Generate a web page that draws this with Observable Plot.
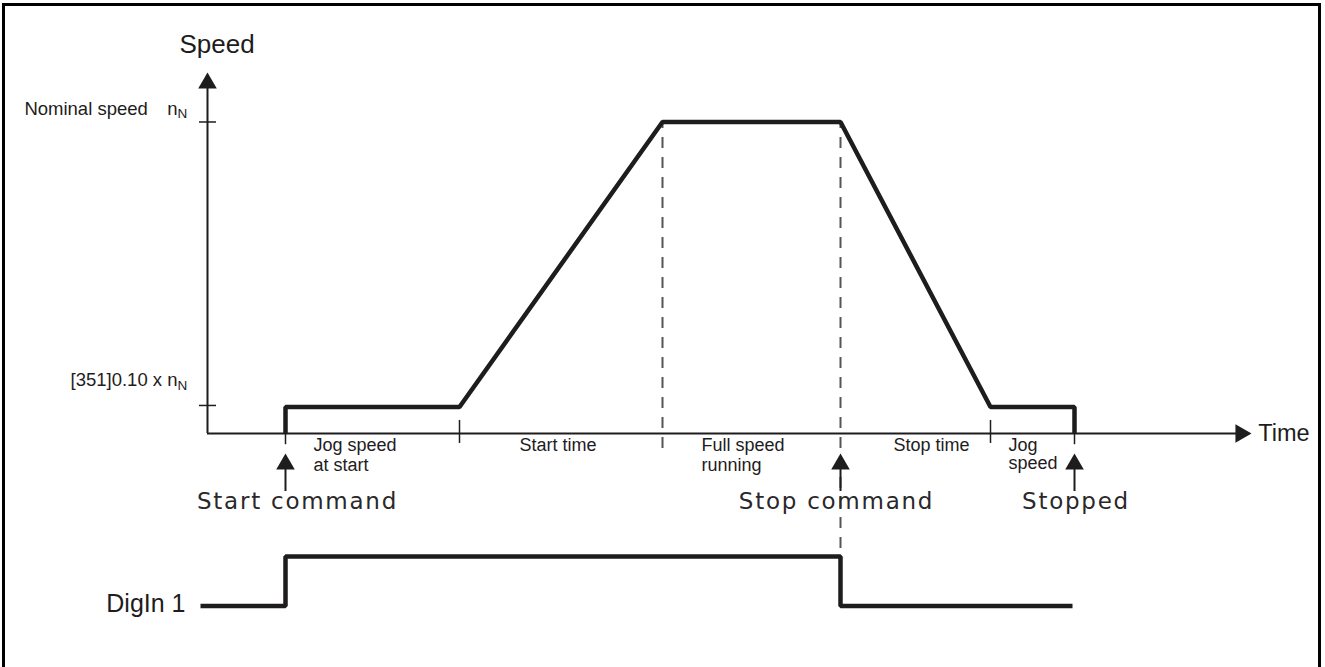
<!DOCTYPE html>
<html><head><meta charset="utf-8">
<script src="https://cdn.jsdelivr.net/npm/d3@7"></script>
<script src="https://cdn.jsdelivr.net/npm/@observablehq/plot@0.6"></script>
<style>
html,body{margin:0;padding:0;background:#fff;overflow:hidden;width:1325px;height:667px;}
#chart{position:absolute;left:0;top:0;}
#frame{position:absolute;left:2px;top:3px;width:1313px;height:720px;border:3px solid #000;border-bottom:none;pointer-events:none;}
</style></head><body>
<div id="chart"></div><div id="frame"></div>
<script>
// ---- data (time in arbitrary units, speed as fraction of nominal speed n_N) ----
const profileTime  = [0.78, 0.78, 2.52, 4.55, 6.33, 7.83, 8.67, 8.67];
const profileSpeed = [0,    0.085, 0.085, 1,   1,    0.085, 0.085, 0];
const digInTime  = [-0.07, 0.78, 0.78, 6.33, 6.33, 8.65];
const digInState = [0, 0, 1, 1, 0, 0];
const speedTicks = [0.09, 1];
const phaseBoundaries = [2.52, 7.83];
const dashedTimes = [4.55, 6.33];
const phaseLabels = ["Jog speed\nat start", "Start time", "Full speed\nrunning", "Stop time"];
const phaseLabelX = [1.06, 3.12, 4.94, 6.86];
const jogStopLabel = ["Jog\nspeed"];
const jogStopLabelX = [8.01];
const eventNames = ["Start command", "Stop command", "Stopped"];
const eventTime = [0.78, 6.33, 8.67];
const eventLabelX = [0.90, 6.29, 8.685];

// ---- layout (in scale units) ----
const INK = "#1e1c1d";
const SANS = "Liberation Sans, Arial, Helvetica, sans-serif";
const DIGIN_LOW = -0.554, DIGIN_HIGH = -0.395;
const digInY = s => DIGIN_LOW + s * (DIGIN_HIGH - DIGIN_LOW);

const profile = profileTime.map((t, i) => ({t, v: profileSpeed[i]}));
const digIn = digInTime.map((t, i) => ({t, v: digInY(digInState[i])}));
const dashed = dashedTimes.map((t, i) => ({t, y2: i === 0 ? -0.06 : DIGIN_HIGH}));

const plot = Plot.plot({
  width: 1325, height: 667, margin: 0,
  style: {background: "transparent", overflow: "visible"},
  x: {domain: [-2.07, 11.18], axis: null},
  y: {domain: [-0.7512, 1.39], axis: null},
  marks: [
    // dashed guides
    Plot.ruleX(dashed, {x: "t", y1: 1, y2: "y2", stroke: "#555", strokeWidth: 2, strokeDasharray: "11,9", strokeDashoffset: 4.5}),
    // axes
    Plot.ruleX([0], {y1: 0, y2: 1.15, stroke: INK, strokeWidth: 2}),
    Plot.ruleY([0], {x1: 0, x2: 10.3, stroke: INK, strokeWidth: 2}),
    Plot.dot([0], {x: 0, y: 1.1246, symbol: "triangle", r: 6.9, fill: INK}),
    Plot.dot([0], {x: 10.333, y: 0, symbol: "triangle", r: 6.9, rotate: 90, fill: INK}),
    // y ticks
    Plot.ruleY(speedTicks, {x1: -0.08, x2: 0.09, stroke: INK, strokeWidth: 1.5}),
    // x ticks at phase boundaries
    Plot.ruleX(phaseBoundaries, {y1: 0.042, y2: -0.032, stroke: INK, strokeWidth: 1.5}),
    Plot.ruleX([eventTime[0], eventTime[2]], {y1: 0, y2: -0.036, stroke: INK, strokeWidth: 1.5}),
    // event arrows
    Plot.ruleX(eventTime, {y1: -0.112, y2: -0.1862, stroke: INK, strokeWidth: 2}),
    Plot.dot(eventTime, {x: d => d, y: -0.0986, symbol: "triangle", r: 6.9, fill: INK}),
    // speed profile
    Plot.line(profile, {x: "t", y: "v", stroke: INK, strokeWidth: 4.5, strokeLinejoin: "miter", strokeLinecap: "butt"}),
    // DigIn 1 signal
    Plot.line(digIn, {x: "t", y: "v", stroke: INK, strokeWidth: 4.5, strokeLinejoin: "miter", strokeLinecap: "butt"}),
    // axis titles
    Plot.text(["Speed"], {x: 0.095, y: 1.2215, lineAnchor: "bottom", fontSize: 26, fontFamily: SANS, fill: INK}),
    Plot.text(["Time"], {x: 10.507, y: 0, dy: 8, lineAnchor: "bottom", textAnchor: "start", fontSize: 23.5, fontFamily: SANS, fill: INK}),
    // y tick labels
    Plot.text(["Nominal speed"], {x: -0.597, y: speedTicks[1], dy: -7.2, lineAnchor: "bottom", textAnchor: "end", fontSize: 18.5, fontFamily: SANS, fill: INK}),
    Plot.text(["n"], {x: -0.403, y: speedTicks[1], dy: -7.2, lineAnchor: "bottom", textAnchor: "start", fontSize: 18.5, fontFamily: SANS, fill: INK}),
    Plot.text(["N"], {x: -0.30, y: speedTicks[1], dy: -4, lineAnchor: "bottom", textAnchor: "start", fontSize: 13.5, fontFamily: SANS, fill: INK}),
    Plot.text(["[351]0.10 x n"], {x: -0.30, y: speedTicks[0], dy: -19, lineAnchor: "bottom", textAnchor: "end", fontSize: 18.5, fontFamily: SANS, fill: INK}),
    Plot.text(["N"], {x: -0.30, y: speedTicks[0], dy: -15.5, lineAnchor: "bottom", textAnchor: "start", fontSize: 13.5, fontFamily: SANS, fill: INK}),
    // phase labels
    Plot.text(phaseLabels, {x: (d, i) => phaseLabelX[i], y: 0, dy: 3.5, lineAnchor: "top", textAnchor: "start", lineHeight: 1.111, fontSize: 18, fontFamily: SANS, fill: INK}),
    Plot.text(jogStopLabel, {x: (d, i) => jogStopLabelX[i], y: 0, dy: 5.4, lineAnchor: "top", textAnchor: "start", lineHeight: 0.97, fontSize: 18, fontFamily: SANS, fill: INK}),
    // event labels
    Plot.text(eventNames, {x: (d, i) => eventLabelX[i], y: -0.2408, lineAnchor: "bottom", fontSize: 23, fontFamily: "DejaVu Sans, Verdana, sans-serif", fill: "#2a2829"}),
    // DigIn label
    Plot.text(["DigIn 1"], {x: -0.22, y: DIGIN_LOW, dy: 6.2, lineAnchor: "bottom", textAnchor: "end", fontSize: 25, fontFamily: SANS, fill: INK})
  ]
});
d3.select(plot).selectAll("text")
  .filter(function () { return eventNames.includes(this.textContent); })
  .style("letter-spacing", "1.75px");
document.getElementById("chart").appendChild(plot);
</script>
</body></html>
